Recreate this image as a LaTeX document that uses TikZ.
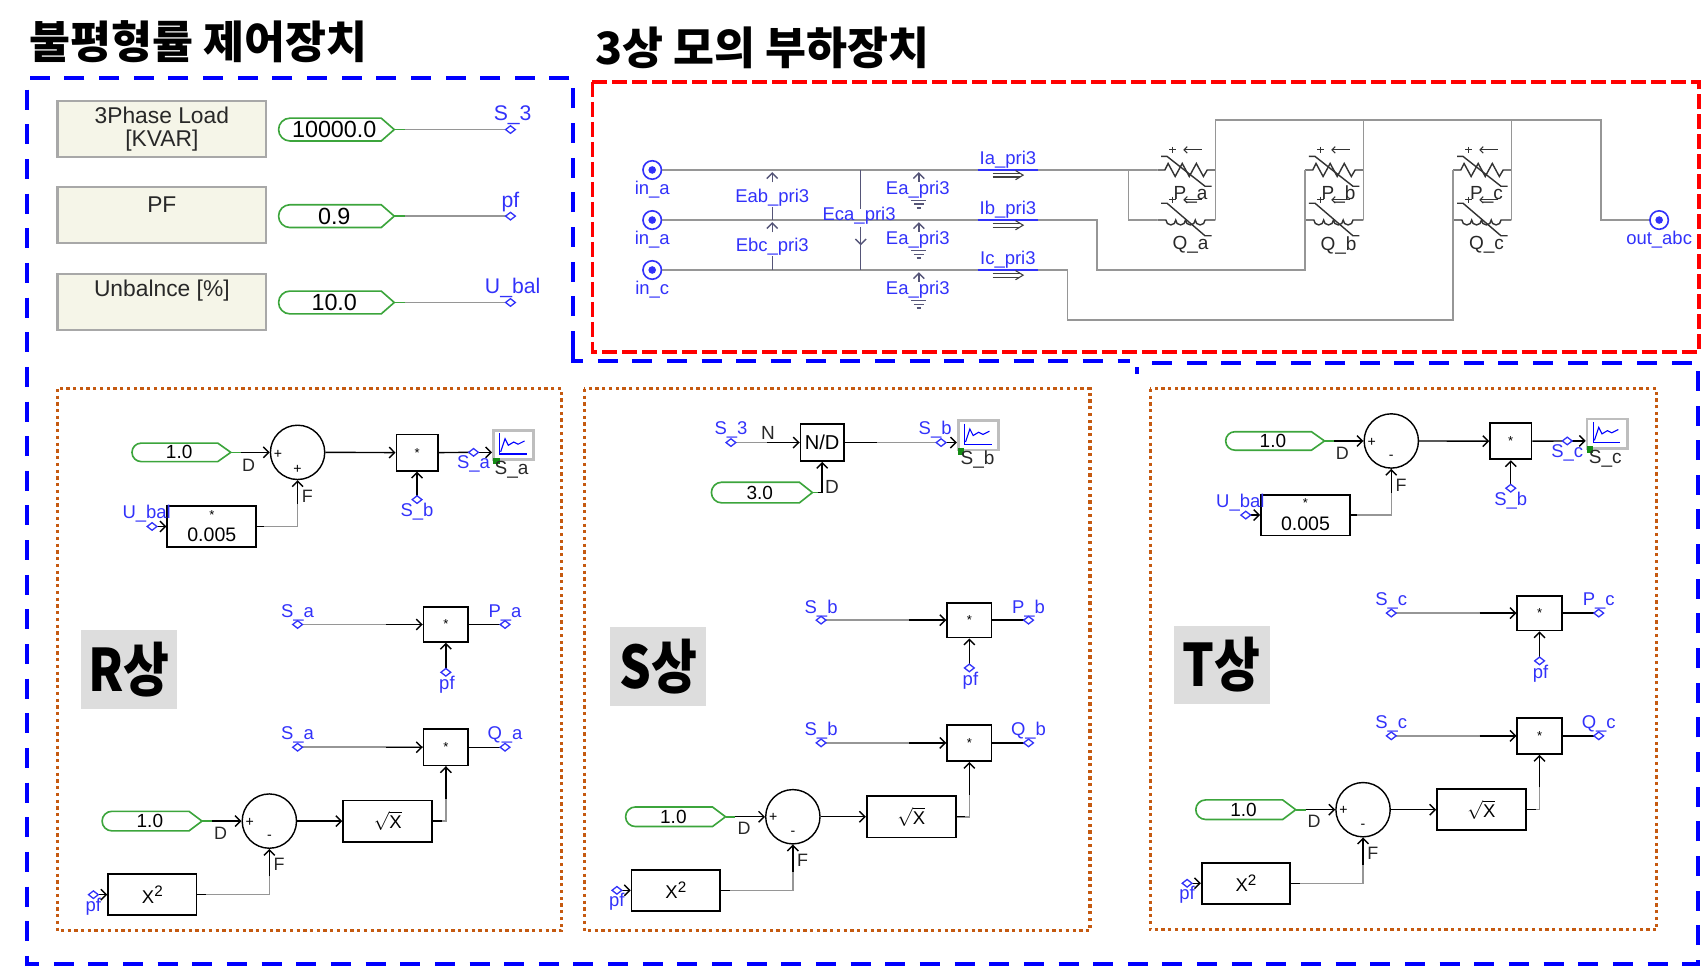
\documentclass[tikz,border=0pt]{standalone}
\usepackage{fontspec}
\usepackage{graphicx}
\setmainfont{Liberation Sans}
\newfontfamily\krfont{Noto Sans CJK KR}
\usetikzlibrary{arrows.meta}

\definecolor{bluedsh}{RGB}{0,0,255}
\definecolor{reddsh}{RGB}{255,0,0}
\definecolor{orng}{RGB}{197,90,17}
\definecolor{lblue}{RGB}{50,50,250}
\definecolor{wgray}{RGB}{150,150,150}
\definecolor{pgreen}{RGB}{60,165,60}
\definecolor{bfill}{RGB}{245,245,232}
\definecolor{bbord}{RGB}{168,168,168}
\definecolor{phbg}{RGB}{221,221,221}
\definecolor{meterc}{RGB}{85,85,120}
\definecolor{igray}{RGB}{190,190,190}
\definecolor{dgreen}{RGB}{20,140,20}
\definecolor{txtdark}{RGB}{40,40,40}

\newcommand\fs[1]{\fontsize{#1}{#1}\selectfont}

\tikzset{
 bluedash/.style={draw=bluedsh, line width=3.7pt, dash pattern=on 18.4pt off 13.5pt},
 reddash/.style={draw=reddsh, line width=3.4pt, dash pattern=on 13.8pt off 4.6pt},
 orngdot/.style={draw=orng, line width=3pt, dash pattern=on 3pt off 3.2pt},
 wire/.style={draw=wgray, line width=1.4pt},
 lead/.style={draw=black, line width=1.3pt},
 inarr/.style={draw=black, line width=1.3pt, -{Straight Barb[length=5pt,width=10pt]}},
 blk/.style={draw=black, line width=1.6pt, fill=white, rectangle, inner sep=0pt},
 summ/.style={draw=black, line width=1.3pt, circle, minimum size=50pt, inner sep=0pt},
 lbl/.style={text=lblue, font=\fs{17}, inner sep=0pt},
 tl/.style={text=lblue, font=\fs{19.5}, inner sep=0pt},
 dlbl/.style={text=txtdark, font=\fs{16.5}, inner sep=0pt},
 blbl/.style={text=txtdark, font=\fs{17.5}, inner sep=0pt},
 sgn/.style={text=black, font=\fs{13}, inner sep=0pt},
 meterline/.style={draw=meterc, line width=1.3pt},
 meterarr/.style={draw=meterc, line width=1.3pt, -{Straight Barb[length=5pt,width=10pt]}},
 parbox/.style={draw=bbord, line width=2pt, fill=bfill, rectangle, inner sep=0pt},
 pillc/.style={draw=pgreen, line width=1.5pt},
 phbox/.style={fill=phbg, rectangle, inner sep=0pt, font=\krfont\bfseries\fs{54}},
 comp/.style={draw=black!80, line width=1.3pt},
 interm/.style={circle, draw=lblue, line width=1.5pt, fill=white, minimum size=17pt, inner sep=0pt},
}

% pill-shaped constant source: name, x0, x1, yc, half height, font size, text
\newcommand\pill[7]{%
  \draw[pillc] (#2+#5,#4-#5) -- (#3-12,#4-#5) -- (#3,#4) -- (#3-12,#4+#5) -- (#2+#5,#4+#5) arc[start angle=90,end angle=270,radius=#5];
  \node[inner sep=0pt, font=\fs{#6}, text=black] (#1) at ({(#2+#3)/2-2},#4) {#7};
  \coordinate (#1tip) at (#3,#4);
}
\newcommand\portmark[1]{\draw[draw=lblue, line width=1.2pt, fill=white] (#1) ++(-4.5,0) -- ++(4.5,-3.5) -- ++(4.5,3.5) -- ++(-4.5,3.5) -- cycle;}
\newcommand\scopeicon[3]{%
  \node[draw=igray, line width=2.5pt, fill=white, rectangle, minimum width=37pt, minimum height=27pt, inner sep=0pt, anchor=north west] (#1) at (#2,#3) {};
  \draw[draw=bluedsh, line width=1.2pt] ([shift={(7,4)}]#1.north west) -- ([shift={(7,23)}]#1.north west) -- ([shift={(32,23)}]#1.north west);
  \draw[draw=bluedsh, line width=1pt] ([shift={(8,21)}]#1.north west) -- ([shift={(12,9)}]#1.north west) -- ([shift={(15,15)}]#1.north west) -- ([shift={(20,12)}]#1.north west) -- ([shift={(24,14)}]#1.north west) -- ([shift={(30,11)}]#1.north west);
  \fill[dgreen] ([shift={(1,-3)}]#1.south west) rectangle ++(6,6);
}
\newcommand\varsign[2]{%
  \draw[comp, line width=1pt] (#1+11,#2) -- ++(6,0) (#1+14,#2-3) -- ++(0,6);
  \draw[comp, line width=1pt, -{Straight Barb[length=3pt,width=6pt]}] (#1+41,#2) -- (#1+24,#2);
}
\newcommand\resist[3]{%
  \coordinate (#1L) at (#2,#3); \coordinate (#1R) at (#2+53.5,#3);
  \draw[comp] (#1L) -- ++(7,0) -- ++(3,-6) -- ++(6.5,12) -- ++(6.5,-12) -- ++(6.5,12) -- ++(6.5,-12) -- ++(6.5,12) -- ++(3.5,-6) -- (#1R);
  \draw[comp] (#2+3.5,#3-12.5) -- ++(5.5,0) -- (#2+44,#3+15) -- ++(6,0);
  \varsign{#2}{#3-18.5}
}
\newcommand\induct[3]{%
  \coordinate (#1L) at (#2,#3); \coordinate (#1R) at (#2+53.5,#3);
  \draw[comp] (#1L) -- ++(8,0) arc[start angle=180,end angle=0,radius=4.5] arc[start angle=180,end angle=0,radius=4.5] arc[start angle=180,end angle=0,radius=4.5] arc[start angle=180,end angle=0,radius=4.5] -- (#1R);
  \draw[comp] (#2+3.5,#3-15.5) -- ++(5.5,0) -- (#2+44,#3+14.5) -- ++(6,0);
  \varsign{#2}{#3-18.6}
}
\newcommand\gndmeter[1]{%
  \draw[meterarr] (846,#1+11) -- (846,#1+2);
  \node[lbl] at (845,#1+18.5) {Ea\_pri3};
  \draw[meterline] (839,#1+28) -- ++(14,0) (841.5,#1+31.5) -- ++(9,0) (844,#1+35) -- ++(4,0);
}
\newcommand\iprobe[2]{%
  \draw[draw=lblue, line width=1.6pt] (900,#1) -- (956,#1);
  \node[lbl] at (928,#1-9.5) {#2};
  \draw[black!75, line width=1pt] (914,#1+3) -- (939,#1+3) (914,#1+6.5) -- (939,#1+6.5);
  \draw[black!75, line width=1pt] (935,#1+0.5) -- (942,#1+4.75) -- (935,#1+9);
}
% upper part of R / T phase: prefix, bottom sign, output label, label under multiplier
\newcommand\upperpart[4]{%
  \pill{#1pl}{121.5}{212.5}{416.5}{8.5}{17.5}{1.0}
  \node[summ] (#1sum) at (274,416.5) {};
  \node[sgn] at (256,418) {+};
  \node[sgn] at (274,432) {#2};
  \node[blk, minimum width=38pt, minimum height=33.5pt] (#1mul) at (384,416.7) {\fs{12}*};
  \node[blk, minimum width=82pt, minimum height=37.5pt] (#1k) at (195,484.75) {};
  \node[font=\fs{12}, inner sep=0pt] at (195,474) {*};
  \node[font=\fs{18}, inner sep=0pt] at (195,492.5) {0.005};
  \coordinate (#1out) at (436,416.5);
  \coordinate (#1sb) at (384,460);
  \coordinate (#1ub) at (140,484.75);
  \scopeicon{#1ic}{453}{395}
  \draw[pillc] (#1pltip) -- ++(9,0);
  \draw[inarr] ([shift={(9,0)}]#1pltip) -- (#1sum.west);
  \draw[inarr] (#1sum.east) -- (#1mul.west);
  \draw[lead] (#1mul.east) -- (#1out);
  \draw[inarr] (#1out) -- (#1ic.west |- #1out);
  \draw[inarr] (#1sb) -- (#1mul.south);
  \draw[inarr] (#1ub) -- (#1k.west);
  \draw[wire] (#1k.east) -| (#1sum.south);
  \draw[lead] (#1k.east) -- ++(6,0);
  \draw[inarr] ([shift={(0,22)}]#1sum.south) -- (#1sum.south);
  \portmark{#1out}\portmark{#1sb}\portmark{#1ub}
  \node[dlbl] at (229,428) {D};
  \node[dlbl] at (283,457) {F};
  \node[lbl] at (436,427.5) {#3};
  \node[blbl] at (471,432.5) {#3};
  \node[lbl] at (384,471.5) {#4};
  \node[lbl] at (135,473) {U\_bal};
}
% lower part of a phase: prefix, phase letter
\newcommand\lowerpart[2]{%
  \coordinate (#1sp) at (274,575);
  \node[blk, minimum width=41pt, minimum height=32pt] (#1mp) at (410.5,575) {\fs{12}*};
  \coordinate (#1op) at (465,575);
  \coordinate (#1pf) at (410.5,619);
  \coordinate (#1sq) at (274,688);
  \node[blk, minimum width=41pt, minimum height=33.5pt] (#1mq) at (410.5,688) {\fs{12}*};
  \coordinate (#1oq) at (465,688);
  \node[blk, minimum width=82pt, minimum height=38pt] (#1rt) at (357,756) {\fs{17}$\sqrt{\mbox{X}}$};
  \node[summ] (#1sum) at (248,756) {};
  \pill{#1pl}{94}{186}{756}{9}{17.5}{1.0}
  \node[blk, minimum width=81.5pt, minimum height=37.5pt] (#1x2) at (140.25,823.75) {\fs{17}X\raisebox{6pt}{\fs{14}2}};
  \coordinate (#1pf2) at (86,823.75);
  \draw[wire] (#1sp) -- (#1mp.west);
  \draw[inarr] ([shift={(-34,0)}]#1mp.west) -- (#1mp.west);
  \draw[lead] (#1mp.east) -- (#1op);
  \draw[inarr] (#1pf) -- (#1mp.south);
  \draw[wire] (#1sq) -- (#1mq.west);
  \draw[inarr] ([shift={(-34,0)}]#1mq.west) -- (#1mq.west);
  \draw[lead] (#1mq.east) -- (#1oq);
  \draw[wire] (#1rt.east) -| (#1mq.south);
  \draw[lead] (#1rt.east) -- ++(8,0);
  \draw[inarr] ([shift={(0,30)}]#1mq.south) -- (#1mq.south);
  \draw[pillc] (#1pltip) -- ++(9,0);
  \draw[inarr] ([shift={(9,0)}]#1pltip) -- (#1sum.west);
  \draw[inarr] (#1sum.east) -- (#1rt.west);
  \draw[inarr] (#1pf2) -- (#1x2.west);
  \draw[wire] (#1x2.east) -| (#1sum.south);
  \draw[lead] (#1x2.east) -- ++(8,0);
  \draw[inarr] ([shift={(0,25)}]#1sum.south) -- (#1sum.south);
  \portmark{#1sp}\portmark{#1op}\portmark{#1pf}\portmark{#1sq}\portmark{#1oq}\portmark{#1pf2}
  \node[sgn] at (230,757) {+};
  \node[sgn] at (248,771) {-};
  \node[lbl] at (274,564) {S\_#2};
  \node[lbl] at (465,564) {P\_#2};
  \node[lbl] at (411.5,630.5) {pf};
  \node[lbl] at (274,677) {S\_#2};
  \node[lbl] at (465,677) {Q\_#2};
  \node[dlbl] at (203,767) {D};
  \node[dlbl] at (257,796) {F};
  \node[lbl] at (86,834.5) {pf};
}

\begin{document}
\begin{tikzpicture}[x=1pt,y=-1pt]
\useasboundingbox (0,0) rectangle (1568,890.4);

% titles
\node[anchor=west, font=\krfont\bfseries\fs{41}, inner sep=0pt] (t1) at (27,38) {불평형률 제어장치};
\node[anchor=west, font=\krfont\bfseries\fs{41}, inner sep=0pt] (t2) at (548,44) {3상 모의 부하장치};

% region frames
\draw[bluedash] (528,323) -- (528,71.5) -- (25,71.5) -- (25,887.5) -- (1563.5,887.5) -- (1563.5,334) -- (1052,334);
\draw[bluedash] (528,323) -- (528,332.5) -- (1040,332.5);
\draw[draw=bluedsh, line width=3.7pt] (1047,338) -- (1047,344);
\draw[reddash] (545.5,75.5) rectangle (1564,324);
\draw[orngdot] (52.8,358) rectangle (517.3,857);
\draw[orngdot] (538,358) rectangle (1003.5,857);
\draw[orngdot] (1059,358) rectangle (1525.5,856);

% ---------- parameter inputs ----------
\node[parbox, minimum width=192pt, minimum height=51.5pt, align=center, font=\fs{21}, text=txtdark] (b1) at (149,118.75) {3Phase Load\\{}[KVAR]};
\node[parbox, minimum width=192pt, minimum height=52pt] (b2) at (149,198) {};
\node[font=\fs{21}, text=txtdark, inner sep=0pt] at (149,188) {PF};
\node[parbox, minimum width=192pt, minimum height=52pt] (b3) at (149,278) {};
\node[font=\fs{21}, text=txtdark, inner sep=0pt] at (149,268) {Unbalnce [\%]};
\pill{pa}{256.5}{363}{119.3}{10.5}{21.5}{10000.0}
\pill{pb}{256.5}{363}{199}{10.5}{21.5}{0.9}
\pill{pc}{256.5}{363}{278.5}{10.5}{21.5}{10.0}
\coordinate (tlS) at (470,119.3);
\coordinate (tlpf) at (470,199);
\coordinate (tlub) at (470,278.5);
\draw[pillc] (patip) -- ++(10,0);
\draw[wire] ([shift={(10,0)}]patip) -- (tlS);
\draw[pillc] (pbtip) -- ++(10,0);
\draw[wire] ([shift={(10,0)}]pbtip) -- (tlpf);
\draw[pillc] (pctip) -- ++(10,0);
\draw[wire] ([shift={(10,0)}]pctip) -- (tlub);
\portmark{tlS}\portmark{tlpf}\portmark{tlub}
\node[tl] at (472,106) {S\_3};
\node[tl] at (470,186) {pf};
\node[tl] at (472,265.5) {U\_bal};

% ---------- 3-phase load ----------
\node[interm] (inA) at (600.5,156.5) {};
\node[interm] (inB) at (600.5,202.6) {};
\node[interm] (inC) at (600.5,248.6) {};
\node[interm] (outabc) at (1527.6,202.6) {};
\resist{Pa}{1065.5}{156.5}
\induct{Qa}{1065.5}{202.6}
\resist{Pb}{1201.7}{156.5}
\induct{Qb}{1201.7}{202.6}
\resist{Pc}{1338}{156.5}
\induct{Qc}{1338}{202.6}
\draw[wire] (inA) -- (PaL);
\draw[wire] (1039,156.5) -- (1039,202.6) -- (QaL);
\draw[wire] (inB) -- (1010,202.6) -- (1010,248.6) -- (1201.7,248.6) -- (PbL);
\draw[wire] (inC) -- (982.7,248.6) -- (982.7,294.7) -- (1338,294.7) -- (PcL);
\draw[wire] (QaR) -- (PaR) -- (1119,110.5) -- (1474,110.5) -- (1474,202.6) -- (outabc);
\draw[wire] (QbR) -- (PbR) -- (1255.2,110.5);
\draw[wire] (QcR) -- (PcR) -- (1391.5,110.5);
\foreach \n in {inA,inB,inC,outabc} {\fill[lblue] (\n) circle[radius=3.5];}
\node[lbl] at (600.5,175) {in\_a};
\node[lbl] at (600.5,221) {in\_a};
\node[lbl] at (600.5,267) {in\_c};
\node[lbl] at (1527.6,221) {out\_abc};
\node[blbl] at (1096.2,179.5) {P\_a};
\node[blbl] at (1096.2,225.6) {Q\_a};
\node[blbl] at (1232.4,179.5) {P\_b};
\node[blbl] at (1232.4,225.6) {Q\_b};
\node[blbl] at (1368.7,179.5) {P\_c};
\node[blbl] at (1368.7,225.6) {Q\_c};
% voltmeters
\draw[meterarr] (711,168) -- (711,158.5);
\node[lbl] (eab) at (711,181.6) {Eab\_pri3};
\draw[meterline] (711,190.5) -- (711,202.6);
\draw[meterarr] (711,214) -- (711,204.5);
\node[lbl] (ebc) at (711,227.5) {Ebc\_pri3};
\draw[meterline] (711,236) -- (711,248.6);
\draw[meterline] (792.5,156.5) -- (792.5,192);
\node[lbl] (eca) at (791,198.5) {Eca\_pri3};
\draw[meterarr] (792.5,209) -- (792.5,226);
\draw[meterline] (792.5,226) -- (792.5,248.6);
\gndmeter{156.5}
\gndmeter{202.6}
\gndmeter{248.6}
\iprobe{156.5}{Ia\_pri3}
\iprobe{202.6}{Ib\_pri3}
\iprobe{248.6}{Ic\_pri3}

% ---------- R phase ----------
\upperpart{Ru}{+}{S\_a}{S\_b}
\lowerpart{R}{a}
\node[phbox, minimum width=88.5pt, minimum height=73pt] (phR) at (118.75,616.5) {\scalebox{0.85}[1]{R상}};

% ---------- S phase ----------
\coordinate (S3in) at (673,407.5);
\node[blk, minimum width=40pt, minimum height=34pt] (nd) at (757,407.5) {\fs{18.5}N/D};
\pill{Spl}{655}{748}{453.5}{9.5}{17.5}{3.0}
\coordinate (Sbout) at (866.5,407.5);
\scopeicon{Sic}{881}{386}
\draw[wire] (S3in) -- (nd.west);
\draw[inarr] ([shift={(-30,0)}]nd.west) -- (nd.west);
\draw[lead] (nd.east) -- ++(30,0);
\draw[wire] ([shift={(30,0)}]nd.east) -- (Sbout);
\draw[inarr] (Sbout) -- (Sic.west |- Sbout);
\draw[pillc] (Spltip) -- ++(5,0);
\draw[inarr] ([shift={(5,0)}]Spltip) -| (nd.south);
\portmark{S3in}\portmark{Sbout}
\node[lbl] at (673,396) {S\_3};
\node[blbl] at (707,399) {N};
\node[lbl] at (861,396) {S\_b};
\node[blbl] at (766,448) {D};
\node[blbl] at (900,423) {S\_b};
\begin{scope}[shift={(482,-4)}]
\lowerpart{S}{b}
\end{scope}
\node[phbox, minimum width=88pt, minimum height=73pt] (phS) at (606,613.5) {\scalebox{0.85}[1]{S상}};

% ---------- T phase ----------
\begin{scope}[shift={(1007,-10.5)}]
\upperpart{Tu}{-}{S\_c}{S\_b}
\lowerpart{T}{c}
\end{scope}
\node[phbox, minimum width=88pt, minimum height=72pt] (phT) at (1125,612) {\scalebox{0.85}[1]{T상}};

\end{tikzpicture}
\end{document}
